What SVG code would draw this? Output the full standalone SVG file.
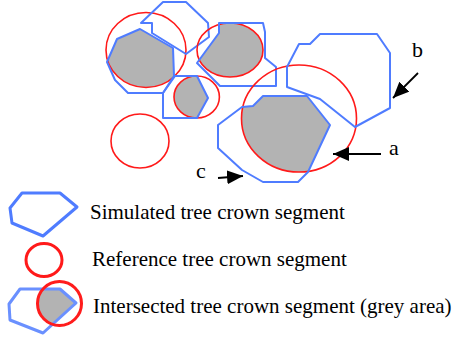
<svg xmlns="http://www.w3.org/2000/svg" width="455" height="338" viewBox="0 0 455 338">
  <style>
    .sim { fill: none; stroke: #4f7cff; stroke-width: 2; stroke-linejoin: round; }
    .ref { fill: none; stroke: #ff1a1a; stroke-width: 1.6; }
    .grey { fill: #b3b3b3; stroke: none; }
    .arrow { fill: none; stroke: #000; stroke-width: 1.8; marker-end: url(#head); }
    .label { font-family: "Liberation Serif", "Times New Roman", serif; font-size: 22px; fill: #000; }
    .legend { font-family: "Liberation Serif", "Times New Roman", serif; font-size: 21px; fill: #000; }
    .lsim { fill: none; stroke: #4f7cff; stroke-width: 3; stroke-linejoin: round; }
    .lref { fill: none; stroke: #ff1a1a; stroke-width: 3; }
  </style>
  <defs>
    <marker id="head" viewBox="0 0 16 14" refX="16" refY="7" markerWidth="16" markerHeight="14" markerUnits="userSpaceOnUse" orient="auto">
      <path d="M0,0 L16,7 L0,14 z" fill="#000"/>
    </marker>
    <clipPath id="clipC1"><ellipse cx="146" cy="50" rx="40" ry="37.5"/></clipPath>
    <clipPath id="clipC3"><ellipse cx="230" cy="50" rx="33" ry="27"/></clipPath>
    <clipPath id="clipC4"><ellipse cx="196.7" cy="97" rx="22.7" ry="21"/></clipPath>
    <clipPath id="clipA"><ellipse cx="299" cy="118.5" rx="57.5" ry="53.5"/></clipPath>
    <clipPath id="clipL"><ellipse cx="59.5" cy="303.5" rx="22" ry="22"/></clipPath>
    <filter id="soft" x="-10%" y="-10%" width="120%" height="120%">
      <feGaussianBlur stdDeviation="0.7"/>
    </filter>
  </defs>

  <!-- crown 1: top left -->
  <g id="crown1">
    <polygon class="grey" clip-path="url(#clipC1)" points="117,39 140,29 173,48 174,76 163,93 128,93 115,80 107,62"/>
    <ellipse class="ref" cx="146" cy="50" rx="40" ry="37.5"/>
    <polygon class="sim" points="117,39 140,29 173,48 174,76 163,93 128,93 115,80 107,62"/>
  </g>

  <!-- crown 2: simulated segment without reference -->
  <g id="crown2">
    <polygon class="sim" points="163,2 186,2 208,23 209,37 186,54 152,33 152,23 141,23"/>
  </g>

  <!-- crown 3: top middle -->
  <g id="crown3">
    <polygon class="grey" clip-path="url(#clipC3)" points="219,23 263,23 265,32 265,58 276,67 276,86 220,86 197,63 219,33"/>
    <ellipse class="ref" cx="230" cy="50" rx="33" ry="27"/>
    <polygon class="sim" points="219,23 263,23 265,32 265,58 276,67 276,86 220,86 197,63 219,33"/>
  </g>

  <!-- crown 4: small centre -->
  <g id="crown4">
    <polygon class="grey" clip-path="url(#clipC4)" points="175,76 197,76 208,98 197,118 163,118 163,93"/>
    <ellipse class="ref" cx="196.7" cy="97" rx="22.7" ry="21"/>
    <polygon class="sim" points="175,76 197,76 208,98 197,118 163,118 163,93"/>
  </g>

  <!-- crown 5: reference segment without simulation -->
  <g id="crown5">
    <ellipse class="ref" cx="140" cy="141" rx="29" ry="27" stroke-width="2"/>
  </g>

  <!-- crown a / c: large reference crown with simulated segment c -->
  <g id="crownA">
    <polygon class="grey" clip-path="url(#clipA)" points="218,125 242,107 253,106 263,96 307,96 330,125 308,172 298,182 263,182 242,170 218,148"/>
    <ellipse class="ref" cx="299" cy="118.5" rx="57.5" ry="53.5"/>
    <polygon class="sim" points="218,125 242,107 253,106 263,96 307,96 330,125 308,172 298,182 263,182 242,170 218,148"/>
  </g>

  <!-- crown b: simulated segment -->
  <g id="crownB">
    <polygon class="sim" points="287,67 299,44 310,44 320,34 377,34 390,53 390,108 355,127 320,99 287,87"/>
  </g>

  <!-- pointers -->
  <g id="connectors">
    <line class="arrow" x1="381" y1="154" x2="333" y2="154"/>
    <line class="arrow" x1="418" y1="73" x2="393" y2="98"/>
    <line class="arrow" x1="218" y1="178" x2="243" y2="176"/>
  </g>

  <g id="labels">
    <text class="label" x="389" y="155">a</text>
    <text class="label" x="412" y="57">b</text>
    <text class="label" x="196" y="178">c</text>
  </g>

  <!-- legend -->
  <g id="legend-sim">
    <polygon class="lsim" points="10,208 22,193 60,193 77,207 43,236 12,223"/>
    <text class="legend" x="90" y="219">Simulated tree crown segment</text>
  </g>
  <g id="legend-ref">
    <ellipse class="lref" cx="44" cy="260" rx="18" ry="16.5"/>
    <text class="legend" x="92" y="266">Reference tree crown segment</text>
  </g>
  <g id="legend-int">
    <g filter="url(#soft)">
      <polygon class="grey" clip-path="url(#clipL)" points="9,304 20,289 60,289 76,303 43,333 10,320"/>
      <polygon class="lsim" stroke="#6a90ff" style="stroke:#6a90ff" points="9,304 20,289 60,289 76,303 43,333 10,320"/>
      <ellipse class="lref" cx="59.5" cy="303.5" rx="22" ry="22" stroke-width="3.5"/>
    </g>
    <text class="legend" x="93" y="313">Intersected tree crown segment (grey area)</text>
  </g>
</svg>
